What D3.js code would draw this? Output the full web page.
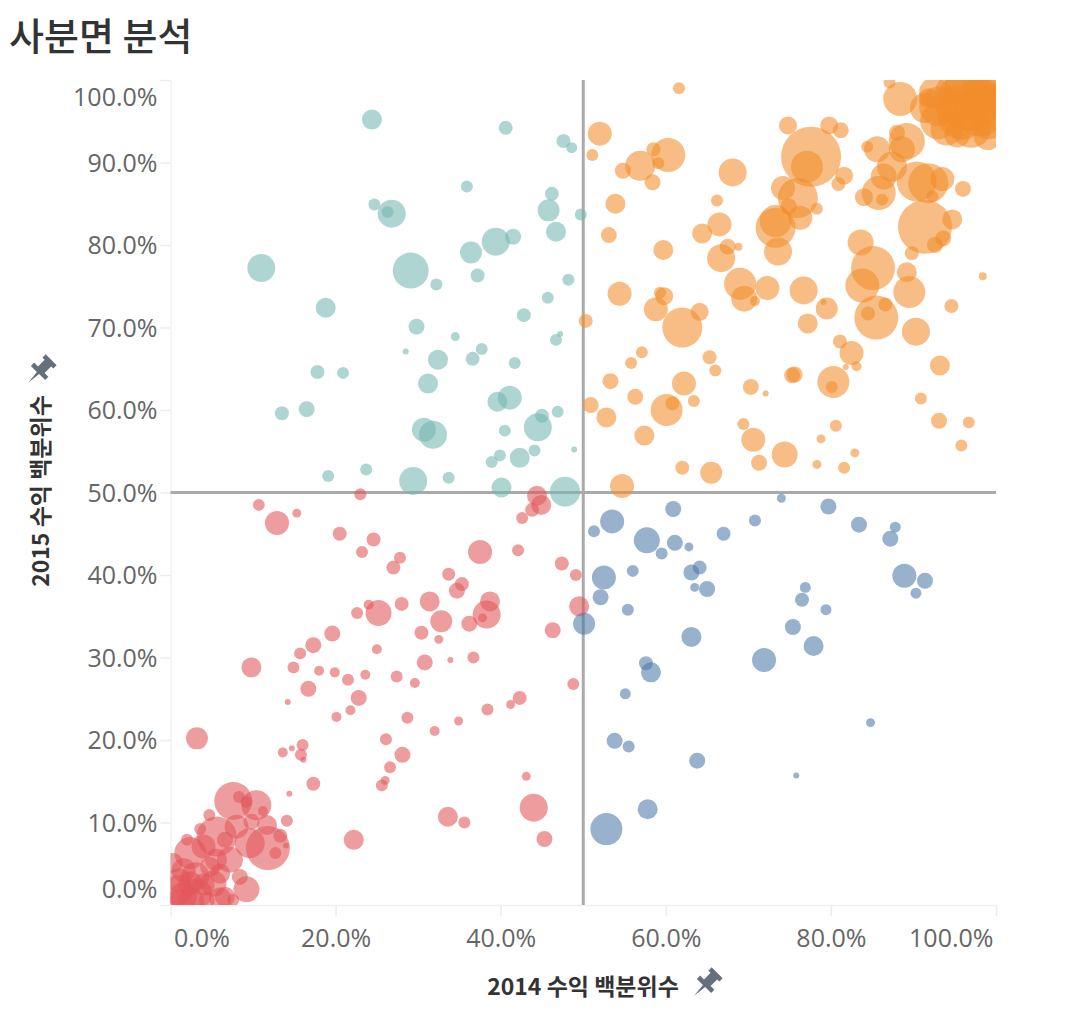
<!DOCTYPE html>
<html>
<head>
<meta charset="utf-8">
<script src="https://cdn.jsdelivr.net/npm/d3@7"></script>
<style>
  body { margin: 0; background: #fff; }
</style>
</head>
<body>
<div id="chart"></div>
<script>
// [2014 수익 백분위수 %, 2015 수익 백분위수 %, 매출]
const upperLeft = [
  [24.4,95.2,100],[24.7,84.9,36],[26.8,83.8,196],[26.3,84.0,36],[11.0,77.2,196],
  [29.1,76.9,324],[32.2,75.2,36],[18.8,72.4,100],[29.8,70.1,64],[28.5,67.1,9],
  [32.4,66.1,100],[40.6,94.2,49],[47.6,92.6,49],[48.6,91.8,30],[35.9,87.1,36],
  [46.2,86.2,49],[45.8,84.2,121],[49.7,83.7,36],[46.7,81.6,100],[39.4,80.4,196],
  [41.5,81.0,64],[36.4,79.1,121],[37.2,76.3,49],[48.2,75.8,36],[45.7,73.6,36],
  [42.8,71.5,49],[34.5,68.9,20],[37.7,67.4,36],[46.7,68.5,36],[47.2,69.2,9],
  [36.6,66.2,49],[41.7,65.7,36],[39.6,61.0,100],[41.1,61.5,144],[45.0,59.3,49],
  [46.9,59.8,36],[44.5,57.9,196],[40.5,57.5,36],[48.9,55.2,9],[44.1,55.1,36],
  [42.3,54.2,100],[39.9,54.5,36],[38.9,53.7,36],[33.7,51.8,36],[40.1,50.6,100],
  [47.8,50.1,225],[17.8,64.6,49],[20.9,64.5,36],[31.2,63.2,100],[16.5,60.1,64],
  [13.5,59.6,49],[30.7,57.6,144],[31.8,57.0,196],[19.1,52.0,36],[23.7,52.8,36],
  [29.4,51.4,196]
];

const upperRight = [
  [61.6,99.0,36],[52.0,93.5,144],[51.1,90.9,36],[56.9,89.6,225],[60.3,90.9,289],
  [58.5,91.6,49],[59.1,89.9,36],[54.8,89.0,64],[58.4,87.6,64],[53.9,85.0,100],
  [53.1,81.2,64],[59.7,79.4,100],[54.4,74.1,144],[58.8,72.2,144],[59.3,74.2,36],
  [59.8,73.8,81],[62.0,70.0,400],[64.1,71.9,81],[50.3,70.8,49],[57.1,67.0,36],
  [66.2,85.4,36],[66.5,82.5,144],[64.4,81.4,100],[66.7,78.4,196],[68.1,88.8,196],
  [65.3,66.4,49],[87.1,99.7,36],[88.4,97.7,289],
  [91.4,96.6,225],[89.2,92.6,324],[88.0,93.6,64],[88.6,91.6,169],[95.3,93.4,169],
  [93.1,96.8,400],[95.9,95.8,625],[98.3,97.8,400],[99.1,95.0,324],[94.7,98.6,289],
  [97.5,99.4,169],[99.9,99.0,225],[91.8,97.8,100],[96.5,97.5,900],[98.0,96.2,625],
  [93.0,95.0,324],[97.0,94.2,400],[99.0,93.2,196],[95.0,97.0,400],[97.5,96.5,484],
  [99.5,97.0,400],[96.0,99.5,324],[92.5,98.5,225],[98.5,99.0,324],[94.0,94.0,256],
  [74.8,94.5,81],[79.8,94.5,81],[81.2,93.9,64],[77.6,90.7,900],[77.1,89.5,256],
  [84.4,91.9,36],[85.6,91.6,169],[86.4,88.3,169],[87.4,89.5,225],[81.6,88.4,81],
  [80.9,87.4,49],[74.2,86.9,144],[76.0,85.7,400],[74.9,84.7,64],[78.3,84.4,36],
  [76.3,83.3,144],[73.3,82.9,256],[73.3,82.1,400],[73.6,79.2,196],[68.8,79.8,16],
  [67.5,79.8,64],[85.8,86.3,289],[86.2,85.5,36],[84.0,85.8,81],[90.4,87.7,400],
  [91.8,87.5,400],[93.5,88.0,144],[92.3,85.9,36],[96.0,86.8,64],[91.4,82.2,729],
  [94.7,83.1,100],[93.6,80.8,64],[92.6,80.0,64],[89.8,79.0,49],[83.6,80.3,169],
  [85.1,77.2,484],[83.8,75.1,289],[89.2,76.7,100],[89.5,74.3,256],[98.4,76.2,16],
  [94.6,72.6,49],[85.5,71.2,484],[84.5,71.7,49],[86.6,72.8,49],[90.3,69.5,196],
  [77.2,70.5,100],[79.5,72.3,121],[79.1,73.1,9],[76.7,74.5,196],[72.3,74.8,144],
  [69.0,75.3,256],[69.5,73.5,169],[70.8,73.2,25],[81.1,68.3,49],[82.5,66.9,144],
  [81.8,65.2,9],[83.1,65.3,25],[80.3,63.4,256],[80.1,62.8,36],[75.3,64.2,64],
  [75.6,64.3,64],[70.3,62.8,64],[72.1,62.0,9],[93.2,65.4,100],[90.9,61.4,36],
  [93.1,58.7,64],[96.7,58.5,36],[95.8,55.7,36],[69.4,58.3,36],[70.6,56.4,144],
  [71.3,53.6,64],[74.4,54.6,169],[80.6,58.1,36],[78.8,56.5,20],[82.9,54.8,20],
  [78.3,53.4,20],[81.6,53.0,36],[55.8,65.7,36],[53.3,63.5,64],[56.3,61.6,64],
  [50.9,60.6,64],[52.8,59.1,100],[60.1,60.0,256],[60.8,60.8,49],[62.2,63.2,144],
  [63.4,61.1,36],[66.0,64.8,36],[57.4,56.9,100],[62.0,53.0,49],[65.5,52.4,121],
  [54.7,50.8,144]
];

const lowerLeft = [
  [44.4,49.6,100],[44.9,48.5,100],[43.8,47.9,49],[42.6,46.9,36],[37.5,42.8,144],
  [42.1,43.0,36],[47.4,41.4,49],[49.1,40.0,36],[49.5,36.2,100],[33.7,40.1,42],
  [35.3,38.9,49],[34.7,38.1,64],[38.7,36.8,100],[38.3,35.2,196],[37.8,34.8,20],
  [36.2,34.1,64],[32.8,34.4,121],[46.3,33.3,64],[33.9,29.7,9],[36.7,30.0,36],
  [48.8,26.8,36],[42.3,25.1,49],[41.2,24.3,20],[38.4,23.7,36],[34.9,22.3,20],
  [43.1,15.6,20],[44.0,11.8,196],[45.3,8.0,64],[33.6,10.7,100],[35.6,10.0,36],
  [23.0,49.8,36],[10.7,48.5,36],[12.9,46.3,144],[15.3,47.5,20],[20.5,45.0,49],
  [24.6,44.3,49],[23.2,42.8,36],[27.8,42.1,36],[27.0,40.9,49],[31.4,36.8,100],
  [25.2,35.4,169],[24.0,36.4,25],[22.6,35.4,36],[28.0,36.5,49],[30.4,33.0,49],
  [19.6,32.9,64],[32.5,32.2,20],[25.0,31.0,25],[17.3,31.5,64],[15.7,30.5,36],
  [9.8,28.8,100],[14.9,28.8,36],[18.0,28.4,25],[19.9,28.2,25],[21.5,27.3,36],
  [23.6,27.9,25],[27.4,27.7,36],[30.8,29.4,64],[29.6,26.9,25],[16.7,26.2,64],
  [22.8,25.1,64],[14.2,24.6,9],[21.8,23.6,25],[20.1,22.8,25],[28.7,22.7,36],
  [32.0,21.1,25],[3.2,20.2,121],[26.1,20.1,36],[16.0,19.4,36],[14.7,19.0,9],
  [13.6,18.5,25],[15.8,18.2,36],[16.1,17.6,9],[28.1,18.2,64],[26.6,16.7,36],
  [26.0,15.1,20],[25.6,14.5,36],[17.3,14.7,49],[14.4,13.5,9],[14.1,10.2,36],
  [22.2,7.9,100],
  [7.6,12.6,361],[10.4,12.1,225],[8.3,13.1,36],[9.2,12.5,36],[4.7,10.9,36],
  [11.2,11.4,25],[3.6,9.2,36],[11.7,9.7,100],[9.8,10.1,64],[8.0,9.5,144],
  [5.6,8.3,400],[11.8,6.9,484],[9.6,7.5,225],[12.7,6.3,36],[13.3,8.4,49],
  [14.0,7.2,9],[7.2,5.5,169],[2.4,6.3,256],[4.0,7.1,144],[9.2,1.9,169],
  [8.4,3.4,64],[1.6,4.2,144],[0.9,1.8,225],[3.2,1.4,225],[5.2,2.6,169],
  [6.6,1.0,100],[4.8,4.6,100],[6.0,3.8,100],[2.4,2.6,144],[0.3,5.1,100],
  [0.8,0.6,100],[4.4,0.6,64],[7.6,0.6,36],[6.6,7.9,64],[2.0,7.9,36],
  [1.5,1.0,196],[3.0,3.5,196],[1.0,3.0,144],[5.5,5.5,121],[2.5,0.5,169],
  [4.0,2.5,121],[6.0,0.8,121]
];

const lowerRight = [
  [60.9,48.0,64],[53.5,46.5,144],[51.3,45.3,36],[57.7,44.2,169],[61.1,43.9,64],
  [59.5,42.6,36],[62.8,43.4,20],[67.0,45.0,49],[70.8,46.6,36],[74.0,49.3,20],
  [79.7,48.3,64],[83.4,46.1,64],[87.8,45.8,30],[87.2,44.4,64],[88.9,39.9,144],
  [91.4,39.3,64],[90.3,37.8,30],[76.9,38.5,30],[76.5,37.0,49],[79.4,35.8,30],
  [75.4,33.7,64],[77.9,31.4,100],[71.9,29.7,144],[84.8,22.1,20],[75.8,15.7,9],
  [52.5,39.7,144],[56.0,40.5,36],[63.1,40.3,64],[64.1,40.9,49],[63.5,38.5,20],
  [65.0,38.3,64],[52.1,37.3,64],[55.4,35.8,36],[50.1,34.1,121],[63.1,32.5,100],
  [57.6,29.3,49],[58.2,28.2,100],[55.1,25.6,30],[53.8,19.9,64],[55.5,19.2,36],
  [63.8,17.5,64],[57.8,11.6,100],[52.8,9.2,256]
];

const quadrants = ['upperLeft', 'upperRight', 'lowerLeft', 'lowerRight'];
const quadrantColors = ['#76b7b2', '#f28e2b', '#e15759', '#4e79a7'];
const xTickValues = [0, 20, 40, 60, 80, 100];
const yTickValues = [0, 10, 20, 30, 40, 50, 60, 70, 80, 90, 100];
const refValue = 50;

const title = '사분면 분석';
const xTitle = '2014 수익 백분위수';
const yTitle = '2015 수익 백분위수';

const W = 1092, H = 1020;
const margin = {top: 80, right: 96, bottom: 115, left: 170.5};

const svg = d3.select('#chart').append('svg')
  .attr('width', W).attr('height', H)
  .style('font-family', '"Open Sans", "Noto Sans CJK KR", sans-serif');

const x = d3.scaleLinear().domain([0, 100]).range([margin.left, W - margin.right]);
const y = d3.scaleLinear().domain([0, 100]).range([H - margin.bottom, margin.top]);
const r = d3.scaleSqrt().domain([0, 900]).range([0, 30]);
const color = d3.scaleOrdinal().domain(quadrants).range(quadrantColors);
const fmt = d => d.toFixed(1) + '%';

const quadOf = d => (d[1] >= refValue ? 'upper' : 'lower') + (d[0] >= refValue ? 'Right' : 'Left');
const points = [].concat(upperLeft, upperRight, lowerLeft, lowerRight);

// title
svg.append('text')
  .attr('x', 9).attr('y', 50)
  .attr('font-family', '"Noto Sans CJK KR", sans-serif')
  .attr('font-size', 38).attr('font-weight', 500)
  .attr('fill', '#333')
  .text(title);

// clip
svg.append('defs').append('clipPath').attr('id', 'plot-clip')
  .append('rect')
  .attr('x', x(0)).attr('y', y(100))
  .attr('width', x(100) - x(0)).attr('height', y(0) - y(100));

// axes
const yAxis = d3.axisLeft(y).tickValues(yTickValues).tickFormat(fmt)
  .tickSize(10).tickSizeOuter(0).tickPadding(3);
const yg = svg.append('g').attr('transform', `translate(${margin.left},0)`).call(yAxis);

const xAxis = d3.axisBottom(x).tickValues(xTickValues).tickFormat(fmt)
  .tickSize(11).tickSizeOuter(0);
const xg = svg.append('g').attr('transform', `translate(0,${y(0)})`).call(xAxis);

[yg, xg].forEach(g => {
  g.select('.domain').attr('stroke', '#f0f0f0').attr('stroke-width', 1.5);
  g.selectAll('.tick line').attr('stroke', '#ececec').attr('stroke-width', 1.5);
  g.selectAll('.tick text')
    .attr('fill', '#666')
    .attr('font-size', 25)
    .attr('font-family', '"Open Sans", sans-serif');
});

yg.selectAll('.tick text')
  .attr('dy', d => d === 100 ? 25.5 : d === 0 ? -8 : 8.5);

xg.selectAll('.tick text')
  .attr('y', 42).attr('dy', 0)
  .attr('text-anchor', d => d === 0 ? 'start' : d === 100 ? 'end' : 'middle')
  .attr('x', d => d === 0 ? 3 : d === 100 ? -3 : 0);

// reference lines
const refs = svg.append('g');
refs.append('line')
  .attr('x1', x(0)).attr('x2', x(100))
  .attr('y1', y(refValue)).attr('y2', y(refValue))
  .attr('stroke', '#aaa').attr('stroke-width', 3);
refs.append('line')
  .attr('x1', x(refValue)).attr('x2', x(refValue))
  .attr('y1', y(0)).attr('y2', y(100))
  .attr('stroke', '#aaa').attr('stroke-width', 3);

// bubbles
svg.append('g').attr('clip-path', 'url(#plot-clip)')
  .selectAll('circle')
  .data(points)
  .join('circle')
  .attr('cx', d => x(d[0]))
  .attr('cy', d => y(d[1]))
  .attr('r', d => r(d[2]))
  .attr('fill', d => color(quadOf(d)))
  .attr('fill-opacity', 0.58);

// pin icon
const pinPath = 'M-5,-12 H5 V-9 H3 V-3 H6.5 V0 H1 L0,9 L-1,0 H-6.5 V-3 H-3 V-9 H-5 Z';
function drawPin(cx, cy) {
  svg.append('path')
    .attr('d', pinPath)
    .attr('transform', `translate(${cx},${cy}) rotate(45) scale(1.55)`)
    .attr('fill', '#66707c');
}

// axis titles
svg.append('text')
  .attr('x', 583).attr('y', 995)
  .attr('text-anchor', 'middle')
  .attr('font-family', '"Noto Sans CJK KR", sans-serif')
  .attr('font-size', 23).attr('font-weight', 'bold')
  .attr('fill', '#333')
  .text(xTitle);
drawPin(704, 986);

svg.append('text')
  .attr('transform', 'translate(49,491) rotate(-90)')
  .attr('text-anchor', 'middle')
  .attr('font-family', '"Noto Sans CJK KR", sans-serif')
  .attr('font-size', 23).attr('font-weight', 'bold')
  .attr('fill', '#333')
  .text(yTitle);
drawPin(38, 373);
</script>
</body>
</html>
